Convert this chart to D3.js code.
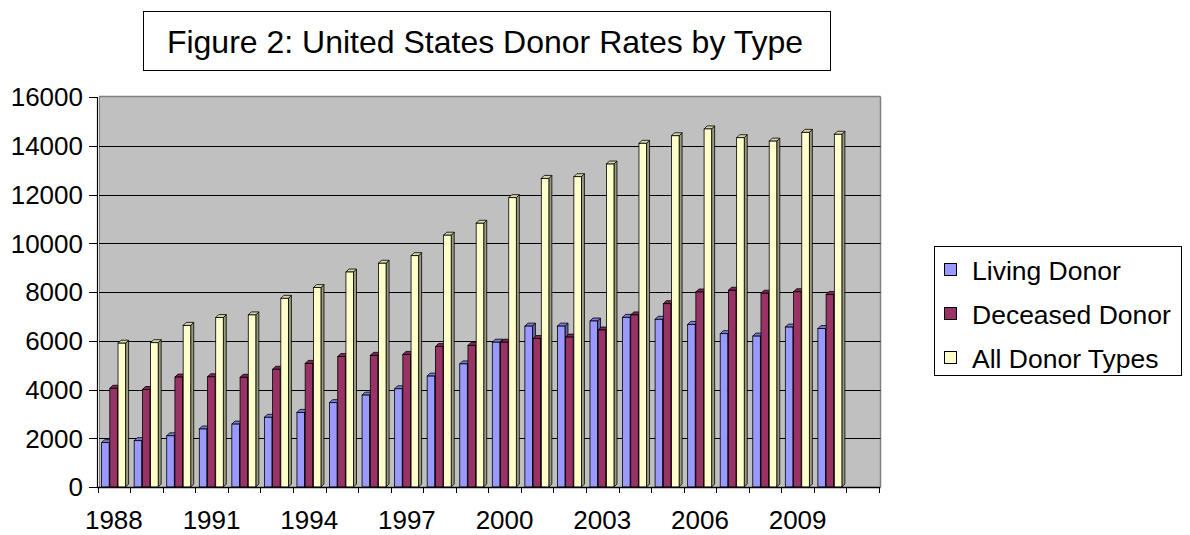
<!DOCTYPE html>
<html>
<head>
<meta charset="utf-8">
<script src="https://cdn.jsdelivr.net/npm/d3@7"></script>
<style>
  html, body { margin: 0; padding: 0; background: #ffffff; }
  svg { display: block; }
</style>
</head>
<body>
<svg id="chart" width="1190" height="535"></svg>
<script>
// ---- data ----
const years = [1988,1989,1990,1991,1992,1993,1994,1995,1996,1997,1998,1999,2000,2001,2002,2003,2004,2005,2006,2007,2008,2009,2010];
const slots = years.concat([2011]); // last slot is empty in the original chart
const seriesNames = ["Living Donor", "Deceased Donor", "All Donor Types"];
const living   = [1820,1900,2100,2380,2580,2860,3060,3460,3770,4030,4550,5050,5940,6600,6600,6810,6960,6880,6670,6290,6190,6560,6500];
const deceased = [4050,4000,4510,4520,4500,4830,5070,5350,5400,5440,5760,5810,5940,6090,6150,6440,7060,7520,8000,8070,7950,8010,7900];
const allTypes = [5900,5920,6630,6950,7060,7740,8180,8820,9180,9490,10330,10820,11870,12660,12730,13250,14100,14410,14690,14330,14190,14550,14470];
const yTicks = [0,2000,4000,6000,8000,10000,12000,14000,16000];
const xLabels = [1988,1991,1994,1997,2000,2003,2006,2009];
const titleText = "Figure 2: United States Donor Rates by Type";

const seriesValues = [living, deceased, allTypes];
const colors = {
  front: ["#9999FF", "#993366", "#FFFFCC"],
  top:   ["#7b7bd6", "#7d2952", "#d6d6a8"],
  side:  ["#6565ad", "#652142", "#9a9a7e"]
};

const svg = d3.select("#chart");
const FONT = "'Liberation Sans', Arial, sans-serif";

const y = d3.scaleLinear().domain([0, 16000]).range([487, 97]);
const x = d3.scaleBand().domain(slots).range([97.6, 879]).padding(0);
const x1 = d3.scaleBand().domain(seriesNames).range([4, 28]).paddingInner(0.08).paddingOuter(0);

// ---- title box ----
svg.append("rect").attr("x", 143.5).attr("y", 11.5).attr("width", 687).attr("height", 59)
  .attr("fill", "#fff").attr("stroke", "#000").attr("stroke-width", 1);
svg.append("text").attr("x", 485).attr("y", 53).attr("text-anchor", "middle")
  .attr("font-family", FONT).attr("font-size", 32).attr("fill", "#000").text(titleText);

// ---- plot area ----
const plot = svg.append("g");
plot.append("rect").attr("x", 99).attr("y", 96.5).attr("width", 781.5).attr("height", 390.5)
  .attr("fill", "#C0C0C0");
plot.append("line").attr("x1", 99).attr("x2", 880.5).attr("y1", 96.5).attr("y2", 96.5)
  .attr("stroke", "#808080").attr("stroke-width", 1.5);
plot.append("line").attr("x1", 880.5).attr("x2", 880.5).attr("y1", 96.5).attr("y2", 487)
  .attr("stroke", "#808080").attr("stroke-width", 1.5);
plot.append("line").attr("x1", 99.5).attr("x2", 99.5).attr("y1", 96.5).attr("y2", 487)
  .attr("stroke", "#808080").attr("stroke-width", 1);

// gridlines
plot.selectAll("line.grid").data(yTicks.filter(d => d > 0 && d < 16000)).enter()
  .append("line").attr("class", "grid")
  .attr("x1", 99).attr("x2", 880.5)
  .attr("y1", d => Math.round(y(d)) + 0.5).attr("y2", d => Math.round(y(d)) + 0.5)
  .attr("stroke", "#000").attr("stroke-width", 1);

// ---- bars (3D style) ----
const d3d = 3;
const bars = svg.append("g");
years.forEach((yr, i) => {
  seriesNames.forEach((s, k) => {
    const v = seriesValues[k][i];
    const x0 = x(yr) + x1(s);
    const w = x1.bandwidth();
    const yt = y(v);
    const yb = y(0);
    const g = bars.append("g");
    g.append("polygon")
      .attr("points", [[x0 + w, yt], [x0 + w + d3d, yt - d3d], [x0 + w + d3d, yb - d3d], [x0 + w, yb]].map(p => p.join(",")).join(" "))
      .attr("fill", colors.side[k]).attr("stroke", "#000").attr("stroke-width", 0.8).attr("stroke-linejoin", "round");
    g.append("polygon")
      .attr("points", [[x0, yt], [x0 + d3d, yt - d3d], [x0 + w + d3d, yt - d3d], [x0 + w, yt]].map(p => p.join(",")).join(" "))
      .attr("fill", colors.top[k]).attr("stroke", "#000").attr("stroke-width", 0.8).attr("stroke-linejoin", "round");
    g.append("rect").attr("x", x0).attr("y", yt).attr("width", w).attr("height", yb - yt)
      .attr("fill", colors.front[k]).attr("stroke", "#000").attr("stroke-width", 0.8);
  });
});

// ---- axes ----
const yAxis = svg.append("g");
yAxis.append("line").attr("x1", 97.5).attr("x2", 97.5).attr("y1", 97).attr("y2", 488)
  .attr("stroke", "#000").attr("stroke-width", 1.2);
yAxis.selectAll("line.tick").data(yTicks).enter().append("line")
  .attr("x1", 89).attr("x2", 97.5)
  .attr("y1", d => Math.round(y(d)) + 0.5).attr("y2", d => Math.round(y(d)) + 0.5)
  .attr("stroke", "#000").attr("stroke-width", 1);
yAxis.selectAll("text").data(yTicks).enter().append("text")
  .attr("x", 83).attr("y", d => y(d)).attr("dy", "0.36em")
  .attr("text-anchor", "end").attr("font-family", FONT).attr("font-size", 26).attr("fill", "#000")
  .text(d => d);

const xAxis = svg.append("g");
xAxis.append("line").attr("x1", 97).attr("x2", 880.5).attr("y1", 487.5).attr("y2", 487.5)
  .attr("stroke", "#000").attr("stroke-width", 1.5);
const boundaries = slots.map(s => x(s)).concat([x(slots[slots.length - 1]) + x.bandwidth()]);
xAxis.selectAll("line.tick").data(boundaries).enter().append("line")
  .attr("x1", d => Math.round(d) + 0.5).attr("x2", d => Math.round(d) + 0.5)
  .attr("y1", 487).attr("y2", 493)
  .attr("stroke", "#000").attr("stroke-width", 1);
xAxis.selectAll("text").data(xLabels).enter().append("text")
  .attr("x", d => x(d) + x.bandwidth() / 2).attr("y", 529)
  .attr("text-anchor", "middle").attr("font-family", FONT).attr("font-size", 26).attr("fill", "#000")
  .text(d => d);

// ---- legend ----
const lg = svg.append("g");
lg.append("rect").attr("x", 934.5).attr("y", 246.5).attr("width", 247).attr("height", 129)
  .attr("fill", "#fff").attr("stroke", "#000").attr("stroke-width", 1);
seriesNames.forEach((s, k) => {
  const cy = 270 + k * 44;
  lg.append("rect").attr("x", 944.5).attr("y", cy - 6.5).attr("width", 12).attr("height", 12)
    .attr("fill", colors.front[k]).attr("stroke", "#000").attr("stroke-width", 1);
  lg.append("text").attr("x", 972).attr("y", cy).attr("dy", "0.36em")
    .attr("font-family", FONT).attr("font-size", 26.5).attr("fill", "#000").text(s);
});
</script>
</body>
</html>
